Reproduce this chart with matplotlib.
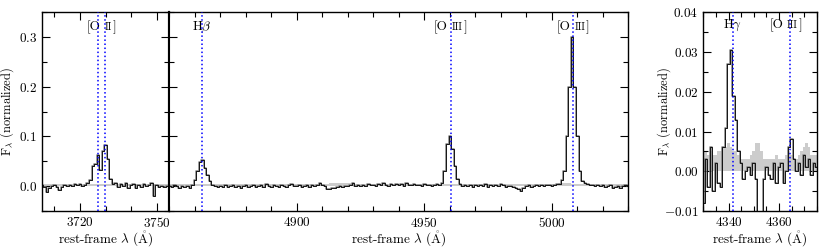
import numpy as np
import matplotlib
matplotlib.use("Agg")
import matplotlib.pyplot as plt
from matplotlib.ticker import MultipleLocator, FixedLocator
from matplotlib.offsetbox import TextArea, HPacker, AnnotationBbox

plt.rcParams["font.family"] = ["cmr10", "DejaVu Serif"]
plt.rcParams["mathtext.fontset"] = "cm"
plt.rcParams["axes.formatter.use_mathtext"] = True
plt.rcParams["axes.formatter.useoffset"] = False
plt.rcParams["font.size"] = 9.5
plt.rcParams["xtick.direction"] = "in"
plt.rcParams["ytick.direction"] = "in"
plt.rcParams["xtick.top"] = True
plt.rcParams["ytick.right"] = True

# --- data (rest-frame, 1 A bins) ---
# [O II] window, 3705..3755
w_oii_start = 3705
f_oii = [0.002, -0.002, -0.012, -0.004, 0.001, 0.003, -0.001, -0.008, -0.002, 0.002,
         0.000, 0.003, 0.001, 0.004, 0.002, 0.005, 0.001, 0.003, 0.006, 0.012,
         0.040, 0.045, 0.062, 0.032, 0.070, 0.082, 0.055, 0.015, 0.004, 0.006,
         -0.002, 0.005, 0.001, 0.006, -0.003, 0.002, 0.004, -0.004, 0.003, -0.001,
         0.004, 0.000, 0.002, 0.006, -0.020, 0.002, -0.001, 0.001, -0.002, 0.000,
         0.001]
# Hbeta + [O III] window, 4850..5030
w_hb_start = 4850
f_hb = [0.001, -0.002, 0.002, 0.000, -0.003, 0.001, -0.002, 0.000, -0.003, 0.003,
        0.012, 0.030, 0.048, 0.052, 0.036, 0.022, 0.010, 0.003, 0.000, -0.002,
        0.001, -0.001, 0.002, -0.002, 0.000, 0.003, -0.001, 0.001, -0.003, 0.000,
        0.002, -0.002, 0.001, 0.003, -0.001, 0.000, 0.002, -0.002, 0.004, 0.001,
        -0.001, 0.002, 0.000, -0.002, 0.003, 0.001, -0.001, 0.002, 0.005, 0.001,
        0.000, 0.003, -0.002, 0.001, 0.002, -0.001, 0.003, 0.000, 0.002, 0.006,
        0.002, 0.000, -0.005, -0.006, -0.004, -0.003, -0.002, 0.000, -0.002, 0.001,
        0.000, 0.002, 0.006, 0.001, 0.002, 0.000, 0.003, 0.001, 0.004, 0.002,
        0.003, 0.001, 0.004, 0.002, 0.006, 0.003, 0.000, 0.004, 0.002, 0.005,
        0.002, 0.004, 0.001, 0.006, 0.003, 0.002, 0.005, 0.002, 0.003, 0.001,
        0.004, 0.002, 0.003, 0.001, 0.002, 0.004, 0.002, 0.006, 0.030, 0.085,
        0.100, 0.075, 0.040, 0.015, 0.005, 0.001, 0.003, 0.000, 0.002, -0.001,
        0.002, 0.000, 0.003, 0.001, 0.004, -0.001, 0.002, 0.000, 0.003, 0.001,
        0.004, 0.002, -0.001, 0.001, 0.000, -0.002, -0.004, -0.006, -0.010, -0.004,
        0.000, 0.002, -0.001, 0.001, 0.002, 0.000, 0.003, 0.001, 0.002, 0.003,
        0.001, 0.002, 0.004, 0.004, 0.012, 0.030, 0.100, 0.200, 0.300, 0.200,
        0.100, 0.030, 0.010, 0.006, 0.004, 0.002, 0.003, 0.000, 0.002, 0.001,
        0.003, -0.001, 0.001, 0.002, -0.003, -0.002, 0.001, -0.004, 0.000, 0.002,
        0.001]
# Hgamma + [O III]4363 window, 4330..4375
w_hg_start = 4330
f_hg = [-0.008, 0.003, -0.004, 0.006, -0.005, 0.002, -0.003, -0.004, 0.006, 0.011,
        0.027, 0.0305, 0.019, 0.013, 0.005, 0.002, -0.002, 0.000, 0.001, -0.001,
        0.002, -0.002, -0.011, -0.012, -0.002, 0.001, -0.001, -0.002, 0.002, -0.003,
        0.001, 0.002, -0.003, 0.000, 0.006, 0.008, 0.003, 0.000, 0.002, -0.001,
        0.004, 0.001, 0.003, -0.001, 0.002, 0.001]
e_hg = [0.005, 0.005, 0.004, 0.005, 0.004, 0.004, 0.005, 0.005, 0.006, 0.006,
        0.007, 0.006, 0.005, 0.005, 0.004, 0.003, 0.003, 0.003, 0.003, 0.004,
        0.005, 0.007, 0.007, 0.005, 0.003, 0.003, 0.003, 0.003, 0.003, 0.004,
        0.003, 0.003, 0.003, 0.004, 0.005, 0.004, 0.003, 0.003, 0.004, 0.005,
        0.006, 0.007, 0.006, 0.004, 0.004, 0.004]
# coarse error spectra (5 A sampling) for the two strong-line windows
e_oii = [0.004, 0.004, 0.005, 0.004, 0.004, 0.005, 0.005, 0.004, 0.004, 0.004, 0.004]
e_hb = [0.004, 0.004, 0.005, 0.004, 0.004, 0.004, 0.004, 0.004, 0.004, 0.004,
        0.004, 0.004, 0.004, 0.006, 0.007, 0.005, 0.004, 0.004, 0.004, 0.004,
        0.004, 0.005, 0.004, 0.004, 0.004, 0.004, 0.004, 0.004, 0.004, 0.004,
        0.005, 0.006, 0.004, 0.004, 0.004, 0.004, 0.004]

# vacuum line centres
lines_oii = [3727.09, 3729.88]
lines_hb = [4862.68, 4960.30, 5008.24]
lines_hg = [4341.69, 4364.44]


def wave(start, n, step=1.0):
    return start + step * np.arange(n)


def draw(ax, w, f, we, e):
    ax.fill_between(we, 0, e, step="mid", color="0.8", lw=0, zorder=1)
    ax.plot(w, f, drawstyle="steps-mid", color="0.5", lw=1.1, zorder=2)
    ax.plot(w, f, drawstyle="steps-mid", color="k", lw=0.6, zorder=3)


def tag(ax, x, y, main, small=""):
    if small:
        head = HPacker(children=[TextArea(main, textprops=dict(size=9.5)),
                                 TextArea(small, textprops=dict(size=7.3))],
                       align="baseline", pad=0, sep=3)
        box = HPacker(children=[head, TextArea("]", textprops=dict(size=9.5))],
                      align="baseline", pad=0, sep=0.5)
    else:
        box = TextArea(main, textprops=dict(size=9.5))
    ab = AnnotationBbox(box, (x, y), xycoords="data", frameon=False,
                        box_alignment=(0.5, 0.5), pad=0, annotation_clip=False)
    ax.add_artist(ab)


fig = plt.figure(figsize=(8.3, 2.49), dpi=100)
bot, hgt = 0.1526, 0.798
ax1 = fig.add_axes([41.7 / 830, bot, 127.7 / 830, hgt])
ax2 = fig.add_axes([169.4 / 830, bot, 458.9 / 830, hgt])
ax3 = fig.add_axes([703.3 / 830, bot, 113.4 / 830, hgt])

draw(ax1, wave(w_oii_start, len(f_oii)), f_oii, wave(w_oii_start, len(e_oii), 5), e_oii)
draw(ax2, wave(w_hb_start, len(f_hb)), f_hb, wave(w_hb_start, len(e_hb), 5), e_hb)
draw(ax3, wave(w_hg_start, len(f_hg)), f_hg, wave(w_hg_start, len(e_hg)), e_hg)

for ax, ls in [(ax1, lines_oii), (ax2, lines_hb), (ax3, lines_hg)]:
    for l in ls:
        ax.axvline(l, color="b", ls=":", lw=1.1, zorder=4)

ax1.set_xlim(3705, 3755)
ax2.set_xlim(4850, 5030)
ax3.set_xlim(4330, 4375)
for ax in (ax1, ax2):
    ax.set_ylim(-0.05, 0.35)
    ax.yaxis.set_major_locator(MultipleLocator(0.1))
    ax.yaxis.set_minor_locator(MultipleLocator(0.05))
ax3.set_ylim(-0.01, 0.04)
ax3.yaxis.set_major_locator(MultipleLocator(0.01))
ax3.yaxis.set_minor_locator(MultipleLocator(0.005))

ax1.xaxis.set_major_locator(MultipleLocator(30))
ax1.xaxis.set_minor_locator(MultipleLocator(10))
ax2.xaxis.set_major_locator(FixedLocator([4900, 4950, 5000]))
ax2.xaxis.set_minor_locator(MultipleLocator(10))
ax3.xaxis.set_major_locator(MultipleLocator(20))
ax3.xaxis.set_minor_locator(MultipleLocator(5))
ax2.tick_params(axis="y", labelleft=False)

xlab = r"rest-frame $\lambda$ ($\mathring{\mathrm{A}}$)"
for ax in (ax1, ax2, ax3):
    ax.tick_params(which="major", length=6, width=0.8)
    ax.tick_params(which="minor", length=3.5, width=0.8)
    for s in ax.spines.values():
        s.set_linewidth(1.0)
    ax.set_xlabel(xlab, fontsize=9.5)
    ax.xaxis.set_label_coords(0.5, -0.092)
ax1.spines["right"].set_linewidth(1.5)
ax2.spines["left"].set_linewidth(1.5)

ylab = r"F$_\lambda$ (normalized)"
ax1.set_ylabel(ylab, fontsize=9)
ax1.yaxis.set_label_coords(-0.2, 0.5)
ax3.set_ylabel(ylab, fontsize=9)
ax3.yaxis.set_label_coords(-0.27, 0.5)

tag(ax1, 3728.5, 0.32, "[O", "II")
tag(ax2, 4862.68, 0.32, r"H$\beta$")
tag(ax2, 4960.30, 0.32, "[O", "III")
tag(ax2, 5008.24, 0.32, "[O", "III")
tag(ax3, 4341.69, 0.0367, r"H$\gamma$")
tag(ax3, 4362.7, 0.0367, "[O", "III")

fig.savefig("out.png", dpi=100)
